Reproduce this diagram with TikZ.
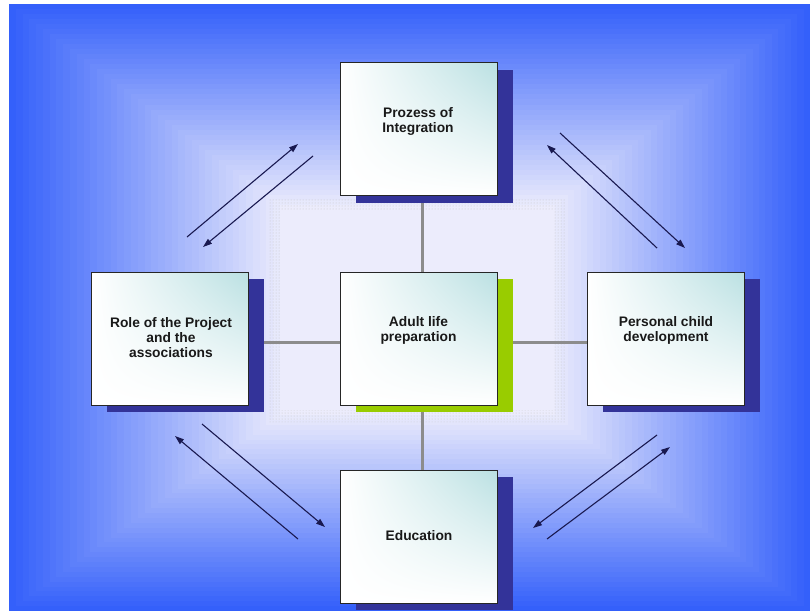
\documentclass[tikz,border=0pt]{standalone}
\usepackage{fontspec}
\setmainfont{Liberation Sans}
\usetikzlibrary{arrows.meta,shadows,shadings,patterns}

\definecolor{edgeblue}{RGB}{52,96,250}
\definecolor{coreblue}{RGB}{236,236,252}
\definecolor{boxtint}{RGB}{186,224,226}
\definecolor{navyshadow}{RGB}{51,51,153}
\definecolor{limeshadow}{RGB}{153,204,0}
\definecolor{arrowink}{RGB}{25,25,80}
\definecolor{linkgrey}{RGB}{140,140,140}

\pgfdeclarelayer{backdrop}
\pgfdeclarelayer{links}
\pgfsetlayers{backdrop,links,main}

\begin{document}
\begin{tikzpicture}[x=1pt,y=-1pt,
  cardbase/.style={draw=black!85, line width=0.6pt,
    minimum width=157pt, minimum height=133pt, inner sep=0pt,
    upper left=white, upper right=boxtint, lower left=white, lower right=white},
  card/.style={cardbase,
    drop shadow={shadow xshift=15.5pt, shadow yshift=-7pt, fill=navyshadow, opacity=1}},
  corecard/.style={cardbase,
    drop shadow={shadow xshift=15.5pt, shadow yshift=-7pt, fill=limeshadow, opacity=1}},
  cardtext/.style={align=center, inner sep=0pt, text=black!90,
    font=\bfseries\fontsize{13.8}{15}\selectfont},
  link/.style={draw=linkgrey, line width=2.2pt},
  flow/.style={draw=arrowink, line width=1.1pt,
    -{Triangle[length=9pt,width=6pt]}}
]
\useasboundingbox (0,0) rectangle (810,611);

\begin{pgfonlayer}{backdrop}
\fill[white] (0,0) rectangle (810,611);
% concentric background frames, blue at the rim, pale in the middle
\foreach \i in {0,...,40}{
  \pgfmathsetmacro\pct{100*\i/40}
  \pgfmathsetmacro\xa{9+\i/40*(280-9)}
  \pgfmathsetmacro\ya{4+\i/40*(205-4)}
  \pgfmathsetmacro\xb{810-\i/40*(810-555)}
  \pgfmathsetmacro\yb{611-\i/40*(611-415)}
  \fill[coreblue!\pct!edgeblue] (\xa,\ya) rectangle (\xb,\yb);
}
% dotted band round the middle area
\fill[pattern=dots, pattern color=gray!45, even odd rule]
  (268,198) rectangle (566,422) (281,210) rectangle (553,410);
\end{pgfonlayer}

% cards
\node[card]     (top)   at (418.5,129)   {};
\node[card]     (left)  at (169.5,338.5) {};
\node[corecard] (mid)   at (418.5,338.5) {};
\node[card]     (right) at (666,338.5)   {};
\node[card]     (bot)   at (418.5,536.5) {};

% grey links from the middle card, kept behind the cards
\begin{pgfonlayer}{links}
\draw[link] ([xshift=4pt]top.south) -- ([xshift=4pt]mid.north);
\draw[link] ([xshift=4pt]mid.south) -- ([xshift=4pt]bot.north);
\draw[link] ([yshift=-4pt]left.east) -- ([yshift=-4pt]mid.west);
\draw[link] ([yshift=-4pt]mid.east) -- ([yshift=-4pt]right.west);
\end{pgfonlayer}

% card captions
\node[cardtext] (topText)   at (418,121)   {Prozess of\\Integration};
\node[cardtext] (leftText)  at (171,338)   {Role of the Project\\and the\\associations};
\node[cardtext] (midText)   at (418.5,330.5) {Adult life\\preparation};
\node[cardtext] (rightText) at (666,330.5) {Personal child\\development};
\node[cardtext] (botText)   at (419,536)   {Education};

% arrow end points
\coordinate (tlA1) at (187,237); \coordinate (tlA2) at (298,144);
\coordinate (tlB1) at (313,156); \coordinate (tlB2) at (203,247);
\coordinate (trA1) at (560,133); \coordinate (trA2) at (685,248);
\coordinate (trB1) at (657,248); \coordinate (trB2) at (547,145);
\coordinate (blA1) at (202,424); \coordinate (blA2) at (325,527);
\coordinate (blB1) at (298,539); \coordinate (blB2) at (175,436);
\coordinate (brA1) at (657,435); \coordinate (brA2) at (533,528);
\coordinate (brB1) at (547,539); \coordinate (brB2) at (670,447);

\draw[flow] (tlA1) -- (tlA2);
\draw[flow] (tlB1) -- (tlB2);
\draw[flow] (trA1) -- (trA2);
\draw[flow] (trB1) -- (trB2);
\draw[flow] (blA1) -- (blA2);
\draw[flow] (blB1) -- (blB2);
\draw[flow] (brA1) -- (brA2);
\draw[flow] (brB1) -- (brB2);
\end{tikzpicture}
\end{document}
